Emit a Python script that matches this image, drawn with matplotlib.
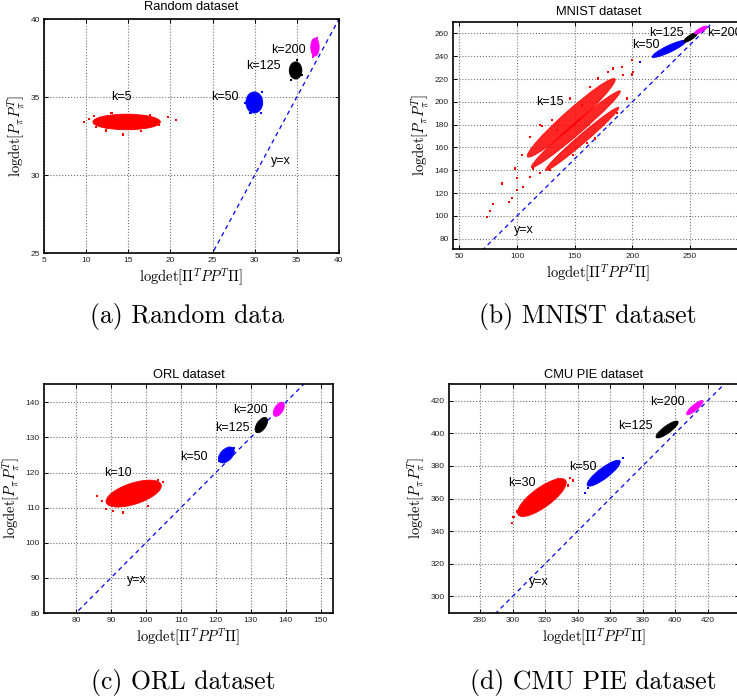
import matplotlib
matplotlib.use("Agg")
import matplotlib.pyplot as plt
from matplotlib.patches import Ellipse

plt.rcParams['font.family'] = ['Liberation Sans', 'DejaVu Sans']
plt.rcParams['mathtext.fontset'] = 'cm'

W, H = 737, 700

#region data
blob_colors = ['red', 'blue', 'black', 'magenta']

# (a) Random dataset
random_labels = ['k=5', 'k=50', 'k=125', 'k=200']
random_cx = [14.8, 29.95, 34.85, 37.15]
random_cy = [33.4, 34.65, 36.7, 38.2]
random_len = [8.0, 2.0, 1.5, 1.0]
random_thick = [1.0, 1.35, 1.1, 1.15]
random_angle = [0, 0, 0, 0]
random_label_x = [14.2, 26.5, 31.0, 34.0]
random_label_y = [35.0, 35.0, 37.0, 38.0]
random_yx_pos = (33.1, 30.9)
random_stray_x = [9.7, 10.3, 19.7, 20.7, 14.4, 11.2, 18.6, 12.4, 17.6, 10.9, 16.5, 13.0,
                  28.8, 30.9, 29.5, 30.7, 34.3, 35.0, 35.6, 36.9, 37.4]
random_stray_y = [33.4, 33.6, 33.7, 33.55, 32.6, 33.1, 33.2, 32.85, 33.85, 33.8, 32.8, 33.95,
                  34.6, 35.3, 33.95, 34.0, 36.1, 37.35, 36.4, 37.6, 38.8]
random_stray_c = ['red'] * 12 + ['blue'] * 4 + ['black'] * 3 + ['magenta'] * 2

# (b) MNIST dataset, k=15 cloud made of three streaks
mnist_labels = ['k=15', 'k=50', 'k=125', 'k=200']
mnist_streak_cx = [147.0, 151.0, 156.5]
mnist_streak_cy = [186.0, 176.0, 167.5]
mnist_streak_len = [102.0, 102.0, 84.0]
mnist_streak_thick = [13.0, 9.5, 7.5]
mnist_streak_angle = [42, 41, 41]
mnist_cx = [232.0, 250.5, 259.5]
mnist_cy = [246.5, 256.5, 263.0]
mnist_len = [32.0, 14.0, 12.5]
mnist_thick = [6.0, 4.0, 3.5]
mnist_angle = [25.6, 33.6, 30.0]
mnist_label_x = [128.6, 211.8, 229.8, 264.5]
mnist_label_y = [200.0, 249.8, 260.0, 260.0]
mnist_yx_pos = (105.5, 88.0)
mnist_stray_x = [73.7, 76.6, 78.9, 86.7, 93.4, 95.4, 100.3, 99.7, 98.3, 104.0, 111.3, 119.9,
                 121.4, 130.1, 134.4, 146.0, 156.1, 163.3, 170.5, 179.2, 183.5, 190.8, 199.4,
                 200.9, 192.2, 167.6, 160.4, 148.8, 128.6, 119.9, 114.2, 195.1, 186.4, 111.3,
                 105.5, 200.0, 206.6, 218.0]
mnist_stray_y = [99.3, 104.2, 110.4, 128.5, 112.4, 115.9, 122.6, 132.9, 141.6, 153.3, 169.4, 179.6,
                 179.0, 184.0, 175.2, 203.0, 197.2, 213.2, 220.5, 226.4, 229.3, 230.8, 236.6,
                 226.4, 223.5, 167.9, 163.6, 153.3, 140.2, 137.3, 141.6, 203.0, 189.9, 134.3,
                 125.6, 224.0, 235.2, 239.0]
mnist_stray_c = ['red'] * 36 + ['blue'] * 2

# (c) ORL dataset
orl_labels = ['k=10', 'k=50', 'k=125', 'k=200']
orl_cx = [96.5, 123.0, 133.0, 138.0]
orl_cy = [114.0, 125.0, 133.5, 138.0]
orl_len = [16.5, 5.5, 5.0, 4.5]
orl_thick = [6.0, 3.3, 2.6, 2.4]
orl_angle = [18, 45, 55, 58]
orl_label_x = [92.1, 113.6, 124.7, 129.8]
orl_label_y = [119.8, 124.5, 132.6, 137.8]
orl_yx_pos = (97.4, 89.5)
orl_stray_x = [86.0, 88.5, 90.5, 93.5, 104.8, 103.5, 89.0, 100.5, 87.5, 120.8, 125.1]
orl_stray_y = [113.3, 109.5, 109.0, 108.6, 117.3, 117.8, 111.5, 110.5, 112.0, 123.3, 127.0]
orl_stray_c = ['red'] * 9 + ['blue'] * 2

# (d) CMU PIE dataset
pie_labels = ['k=30', 'k=50', 'k=125', 'k=200']
pie_cx = [318.0, 356.0, 395.0, 412.0]
pie_cy = [360.6, 375.5, 402.3, 415.7]
pie_len = [36.0, 25.0, 16.5, 13.0]
pie_thick = [12.0, 6.5, 4.5, 3.5]
pie_angle = [36, 37, 36, 40]
pie_label_x = [305.6, 343.5, 375.3, 395.4]
pie_label_y = [369.7, 379.1, 404.7, 419.0]
pie_yx_pos = (315.9, 309.0)
pie_stray_x = [299.5, 300.5, 302.5, 335.5, 337.0, 334.0, 310.0, 328.0, 344.6, 368.0, 346.5]
pie_stray_y = [344.8, 348.5, 352.0, 372.5, 371.0, 368.0, 352.0, 372.0, 363.6, 385.0, 366.5]
pie_stray_c = ['red'] * 8 + ['blue'] * 3
#endregion


#region plotting helpers
def pixelBox(left, top, right, bottom):
    return [left / W, 1 - bottom / H, (right - left) / W, (bottom - top) / H]


def drawBlobs(ax, cx, cy, lengths, thicks, angles, colors, alpha=1.0):
    for x, y, l, t, a, c in zip(cx, cy, lengths, thicks, angles, colors):
        ax.add_patch(Ellipse((x, y), l, t, angle=a, facecolor=c, edgecolor=c, lw=0.6,
                             alpha=alpha, zorder=3))


def drawStrays(ax, xs, ys, colors):
    ax.scatter(xs, ys, s=2.5, c=colors, marker='s', linewidths=0, zorder=3)


def styleAxes(ax, title, xlim, ylim, xticks, yticks, titlePad):
    lo = min(xlim[0], ylim[0])
    hi = max(xlim[1], ylim[1])
    ax.plot([lo, hi], [lo, hi], color='blue', ls=(0, (3.5, 3)), lw=0.9, zorder=2)
    ax.set_xlim(xlim)
    ax.set_ylim(ylim)
    ax.set_xticks(xticks)
    ax.set_yticks(yticks)
    ax.grid(True, ls=':', color='0.45', lw=0.8)
    ax.set_axisbelow(True)
    ax.tick_params(direction='in', length=3, width=0.7, labelsize=6, pad=3,
                   top=True, right=True, colors='black', labelcolor='#222222')
    for s in ax.spines.values():
        s.set_linewidth(1.2)
    ax.set_title(title, fontsize=9.3, pad=titlePad)
    ax.set_xlabel(r'$\mathrm{logdet}[\Pi^T P P^T \Pi]$', fontsize=10.5, labelpad=2)
    ax.set_ylabel(r'$\mathrm{logdet}[P_\pi P_\pi^T]$', fontsize=10.5, labelpad=2)


def drawLabels(ax, xs, ys, labels, yxPos, lastLeft=False):
    for i, (x, y, t) in enumerate(zip(xs, ys, labels)):
        ha = 'left' if (lastLeft and i == len(labels) - 1) else 'center'
        ax.text(x, y, t, ha=ha, va='center', fontsize=9, zorder=4)
    ax.text(yxPos[0], yxPos[1], 'y=x', ha='center', va='center', fontsize=9, zorder=4)
#endregion


def plot():
    fig = plt.figure(figsize=(W / 100, H / 100), dpi=100)

    # (a)
    ax = fig.add_axes(pixelBox(44, 19, 339, 253))
    drawBlobs(ax, random_cx, random_cy, random_len, random_thick, random_angle, blob_colors)
    drawStrays(ax, random_stray_x, random_stray_y, random_stray_c)
    drawLabels(ax, random_label_x, random_label_y, random_labels, random_yx_pos)
    styleAxes(ax, 'Random dataset', (5, 40), (25, 40), range(5, 41, 5), range(25, 41, 5), 6.5)

    # (b)
    ax = fig.add_axes(pixelBox(453, 22, 744, 249))
    drawBlobs(ax, mnist_streak_cx, mnist_streak_cy, mnist_streak_len, mnist_streak_thick,
              mnist_streak_angle, ['red'] * 3, alpha=0.85)
    drawBlobs(ax, mnist_cx, mnist_cy, mnist_len, mnist_thick, mnist_angle, blob_colors[1:])
    drawStrays(ax, mnist_stray_x, mnist_stray_y, mnist_stray_c)
    drawLabels(ax, mnist_label_x, mnist_label_y, mnist_labels, mnist_yx_pos, lastLeft=True)
    styleAxes(ax, 'MNIST dataset', (44.5, 296.8), (71, 270), range(50, 251, 50), range(80, 261, 20), 5)

    # (c)
    ax = fig.add_axes(pixelBox(44, 384, 333, 613))
    drawBlobs(ax, orl_cx, orl_cy, orl_len, orl_thick, orl_angle, blob_colors)
    drawStrays(ax, orl_stray_x, orl_stray_y, orl_stray_c)
    drawLabels(ax, orl_label_x, orl_label_y, orl_labels, orl_yx_pos)
    styleAxes(ax, 'ORL dataset', (70.85, 153.5), (80, 145.2), range(80, 151, 10), range(80, 141, 10), 4.3)

    # (d)
    ax = fig.add_axes(pixelBox(449, 384, 739, 613))
    drawBlobs(ax, pie_cx, pie_cy, pie_len, pie_thick, pie_angle, blob_colors)
    drawStrays(ax, pie_stray_x, pie_stray_y, pie_stray_c)
    drawLabels(ax, pie_label_x, pie_label_y, pie_labels, pie_yx_pos)
    styleAxes(ax, 'CMU PIE dataset', (260.9, 439.2), (289.8, 430.2), range(280, 421, 20), range(300, 421, 20), 4.3)

    # sub-figure captions
    captions = ['(a) Random data', '(b) MNIST dataset', '(c) ORL dataset', '(d) CMU PIE dataset']
    capX = [187, 588, 183, 593]
    capY = [317, 317, 682, 682]
    for t, x, y in zip(captions, capX, capY):
        fig.text(x / W, 1 - y / H, t, family='cmr10', fontsize=18.5, ha='center', va='center')

    fig.savefig('out.png', dpi=100)


if __name__ == '__main__':
    plot()
